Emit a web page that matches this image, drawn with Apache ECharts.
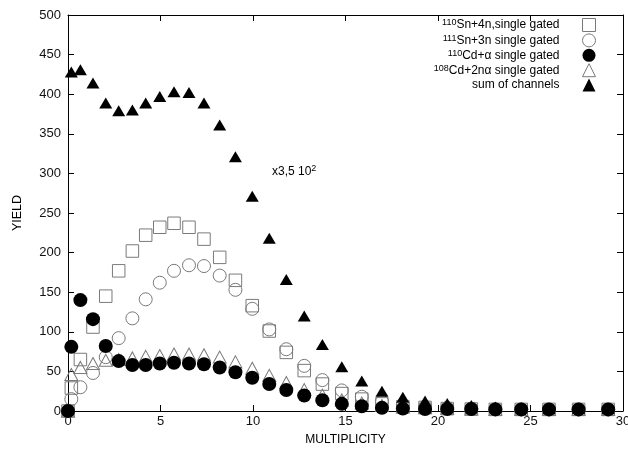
<!DOCTYPE html>
<html>
<head>
<meta charset="utf-8">
<script src="https://cdn.jsdelivr.net/npm/echarts@6/dist/echarts.min.js"></script>
<style>html,body{margin:0;padding:0;background:#fff;}#c{width:628px;height:453px;}</style>
</head>
<body>
<div id="c"></div>
<script>
// Multiplicity bins (x positions)
const multiplicity = [0, 0.18, 0.67, 1.35, 2.04, 2.74, 3.48, 4.2, 4.96, 5.73, 6.54, 7.35, 8.2, 9.05, 9.96, 10.88, 11.8, 12.77, 13.75, 14.8, 15.88, 16.97, 18.1, 19.3, 20.5, 21.8, 23.1, 24.5, 26.0, 27.6, 29.2];
// Series yields
const sn110 = [0, 29, 65, 106, 145, 177, 202, 222, 232, 237, 232, 217, 194, 165, 133, 101, 74, 51, 34, 22, 15, 9, 5.5, 4.5, 3, 2.5, 2, 2, 2, 2, 2];
const sn111 = [0, 15, 30, 48, 68, 92, 117, 141, 162, 177, 184, 183, 171, 153, 129, 103, 78, 57, 39, 26, 18, 12, 8, 5.5, 4, 3, 2.5, 2, 2, 2, 2];
const cdAlpha = [0, 81, 140, 116, 82, 63, 58, 58, 60, 61, 60, 59, 55, 49, 42, 34, 26.5, 19.5, 13.5, 9, 6, 4, 3, 2.5, 2.5, 2.5, 2, 2, 2, 2, 2];
const cd2nAlpha = [0, 46, 55, 60, 64, 65, 67, 69, 70, 72, 72, 71, 68, 62, 54, 45, 36, 27, 20, 14, 10, 7, 5, 4, 3, 2.5, 2, 2, 2, 2, 2];
const sumChannels = [null, 428, 431, 414, 389, 379, 380, 389, 397, 403, 402, 389, 361, 321, 271, 218, 166, 120, 84, 56, 38, 25, 17.5, 12.5, 9.5, 7, 5, 4, 3, 3, 3];
// Axis ticks / labels
const xTicks = {min: 0, max: 30, step: 5};
const yTicks = {min: 0, max: 500, step: 50};
const seriesNames = ['Sn110', 'Sn111', 'CdA', 'Cd2nA', 'Sum'];
const legendLabels = {
  Sn110: '{sup|110}Sn+4n,single gated',
  Sn111: '{sup|111}Sn+3n single gated',
  CdA: '{sup|110}Cd+α single gated',
  Cd2nA: '{sup|108}Cd+2nα single gated',
  Sum: 'sum of channels'
};
const annotation = '{a|x3,5 10}{s|2}';

const FONT = 'Liberation Sans, Arial, Helvetica, sans-serif';
const GRAY = '#7a7a7a';
const pts = vals => multiplicity.map((x, i) => [x, vals[i]]).filter(p => p[1] !== null);

const chart = echarts.init(document.getElementById('c'), null, {renderer: 'canvas'});

const axisCommon = () => ({
  axisLine: {show: true, onZero: false, lineStyle: {color: '#000', width: 1}},
  axisTick: {show: true, inside: true, length: 6, lineStyle: {color: '#000'}},
  splitLine: {show: false}
});

const openStyle = {color: 'transparent', borderColor: GRAY, borderWidth: 1, opacity: 1};
const blackStyle = {color: '#000', opacity: 1};

chart.setOption({
  animation: false,
  backgroundColor: '#fff',
  textStyle: {fontFamily: FONT},
  grid: {left: 68, right: 5, top: 15, bottom: 42, containLabel: false, outerBoundsMode: 'none'},
  xAxis: [
    Object.assign({
      type: 'value', min: xTicks.min, max: xTicks.max, interval: xTicks.step, position: 'bottom',
      name: 'MULTIPLICITY', nameLocation: 'middle', nameGap: 23,
      nameTextStyle: {fontSize: 12, color: '#000', fontFamily: FONT},
      axisLabel: {fontSize: 13, color: '#111', margin: 4, fontFamily: FONT}
    }, axisCommon()),
    Object.assign({
      type: 'value', min: xTicks.min, max: xTicks.max, interval: xTicks.step, position: 'top',
      axisLabel: {show: false}
    }, axisCommon())
  ],
  yAxis: [
    Object.assign({
      type: 'value', min: yTicks.min, max: yTicks.max, interval: yTicks.step, position: 'left',
      name: 'YIELD', nameLocation: 'middle', nameGap: 44, nameRotate: 90,
      nameTextStyle: {fontSize: 12.5, color: '#000', fontFamily: FONT},
      axisLabel: {fontSize: 13, color: '#111', margin: 7, fontFamily: FONT}
    }, axisCommon()),
    Object.assign({
      type: 'value', min: yTicks.min, max: yTicks.max, interval: yTicks.step, position: 'right',
      axisLabel: {show: false}
    }, axisCommon())
  ],
  legend: {
    orient: 'vertical', right: 32, top: 18, padding: 0, align: 'right',
    itemWidth: 13, itemHeight: 13, itemGap: 1.4,
    selectedMode: false,
    data: [
      {name: 'Sn110', icon: 'rect', itemStyle: {color: '#fff', borderColor: GRAY, borderWidth: 1, opacity: 1}},
      {name: 'Sn111', icon: 'circle', itemStyle: {color: '#fff', borderColor: GRAY, borderWidth: 1, opacity: 1}},
      {name: 'CdA', icon: 'circle', itemStyle: {color: '#000', opacity: 1}},
      {name: 'Cd2nA', icon: 'triangle', itemStyle: {color: '#fff', borderColor: GRAY, borderWidth: 1, opacity: 1}},
      {name: 'Sum', icon: 'triangle', itemStyle: {color: '#000', opacity: 1}}
    ],
    formatter: name => legendLabels[name],
    textStyle: {
      fontSize: 12, color: '#000', fontFamily: FONT, lineHeight: 13,
      padding: [0, 18, 0, 0],
      rich: {sup: {fontSize: 9, lineHeight: 9, verticalAlign: 'top', fontFamily: FONT, color: '#000'}}
    }
  },
  graphic: [{
    type: 'text', left: 272, top: 164,
    style: {
      text: annotation, fill: '#000', font: '12px ' + FONT,
      rich: {a: {fontSize: 12, lineHeight: 15, fontFamily: FONT}, s: {fontSize: 9, lineHeight: 9, verticalAlign: 'top', fontFamily: FONT}}
    }
  }],
  series: [
    {name: seriesNames[0], type: 'scatter', data: pts(sn110), symbol: 'rect', symbolSize: 12.5, itemStyle: openStyle},
    {name: seriesNames[1], type: 'scatter', data: pts(sn111), symbol: 'circle', symbolSize: 13, itemStyle: openStyle},
    {name: seriesNames[3], type: 'scatter', data: pts(cd2nAlpha), symbol: 'triangle', symbolSize: [13, 12], itemStyle: openStyle},
    {name: seriesNames[2], type: 'scatter', data: pts(cdAlpha), symbol: 'circle', symbolSize: 14, itemStyle: blackStyle},
    {name: seriesNames[4], type: 'scatter', data: pts(sumChannels), symbol: 'triangle', symbolSize: [13, 11], itemStyle: blackStyle}
  ]
});
</script>
</body>
</html>
